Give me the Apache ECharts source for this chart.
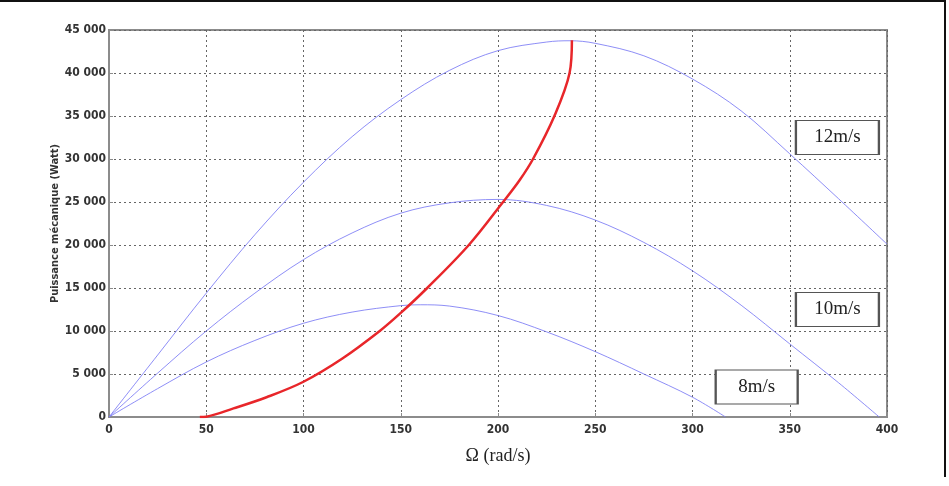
<!DOCTYPE html>
<html>
<head>
<meta charset="utf-8">
<script src="https://cdn.jsdelivr.net/npm/echarts@6/dist/echarts.min.js"></script>
<style>
  html, body { margin: 0; padding: 0; background: #fff; }
  #chart { width: 949px; height: 486px; }
</style>
</head>
<body>
<div id="chart"></div>
<script>
// vitesse de rotation (rad/s) et puissance (W)
var omega12 = [0, 25, 50, 75, 100, 125, 150, 175, 200, 225, 237, 250, 275, 300, 325, 350, 375, 400];
var power12 = [0, 7200, 14400, 21200, 27300, 32600, 36900, 40300, 42600, 43600, 43750, 43450, 42000, 39300, 35600, 30600, 25400, 20100];

var omega10 = [0, 25, 50, 75, 100, 125, 150, 175, 200, 225, 250, 275, 300, 325, 350, 375, 396];
var power10 = [0, 5100, 10000, 14400, 18300, 21400, 23700, 24900, 25300, 24600, 22900, 20300, 17000, 13000, 8500, 4000, 0];

var omega8 = [0, 25, 50, 75, 100, 125, 150, 160, 175, 200, 225, 250, 275, 300, 317];
var power8 = [0, 3300, 6400, 8900, 10900, 12200, 12950, 13050, 12900, 11800, 9900, 7600, 5000, 2300, 0];

var omegaOpt = [46.7, 50, 64, 81, 100, 120, 139.2, 150, 163.6, 185, 202.6, 211, 218, 229, 236.8, 238];
var powerOpt = [0, 40, 1000, 2300, 4100, 6800, 10000, 12100, 15000, 20000, 25000, 27500, 30000, 35000, 40000, 43800];

var xTicks = [0, 50, 100, 150, 200, 250, 300, 350, 400];
var windLabels = ['12m/s', '10m/s', '8m/s'];
// position des étiquettes (en coordonnées des axes)
var labelPos = [[374.5, 32500], [374.5, 12500], [333, 3500]];

var narrow = "'Liberation Sans Narrow', 'DejaVu Sans Condensed', 'Liberation Sans', sans-serif";

function pairs(xs, ys) {
    return xs.map((x, i) => [x, ys[i]]);
}

function boxLabel(i) {
    return {
        symbol: 'rect',
        symbolSize: i === 2 ? [82, 34] : [83, 34],
        silent: true,
        itemStyle: { color: '#fff', borderColor: '#555', borderWidth: 1.5 },
        label: {
            show: true,
            position: 'inside',
            formatter: windLabels[i],
            fontFamily: 'Liberation Serif',
            fontSize: 19,
            color: '#222'
        },
        data: [{ coord: labelPos[i] }]
    };
}

const blueLine = {
    color: '#7a7af5',
    width: 1,
    opacity: 0.85
};

const chart = echarts.init(document.getElementById('chart'));

chart.setOption({
    animation: false,
    backgroundColor: '#fff',
    grid: {
        left: 109,
        right: 62,
        top: 30,
        bottom: 69,
        show: true,
        borderColor: '#8c8c8c',
        borderWidth: 2
    },
    xAxis: {
        type: 'value',
        min: 0,
        max: 400,
        interval: 50,
        name: 'Ω (rad/s)',
        nameLocation: 'middle',
        nameGap: 30,
        nameTextStyle: { fontFamily: 'Liberation Serif', fontSize: 18, color: '#222' },
        axisLine: { lineStyle: { color: '#8c8c8c', width: 2 } },
        axisTick: { inside: true, length: 4, lineStyle: { color: '#8c8c8c' } },
        axisLabel: {
            margin: 7,
            fontFamily: narrow,
            fontWeight: 'bold',
            fontSize: 12,
            color: '#333',
            formatter: v => xTicks.includes(v) ? String(v) : ''
        },
        splitLine: { show: true, lineStyle: { type: [2, 3], color: '#666', width: 1 } }
    },
    yAxis: {
        type: 'value',
        min: 0,
        max: 45000,
        interval: 5000,
        name: 'Puissance mécanique (Watt)',
        nameLocation: 'middle',
        nameGap: 48,
        nameMoveOverlap: false,
        nameTextStyle: { fontFamily: narrow, fontWeight: 'bold', fontSize: 11, color: '#333' },
        axisLine: { show: true, lineStyle: { color: '#8c8c8c', width: 2 } },
        axisTick: { show: true, inside: true, length: 4, lineStyle: { color: '#8c8c8c' } },
        axisLabel: {
            margin: 3,
            fontFamily: narrow,
            fontWeight: 'bold',
            fontSize: 12,
            color: '#333',
            formatter: v => v >= 1000 ? String(v).slice(0, -3) + ' ' + String(v).slice(-3) : String(v)
        },
        splitLine: { show: true, lineStyle: { type: [2, 3], color: '#666', width: 1 } }
    },
    graphic: [
        { type: 'line', shape: { x1: 0, y1: 1, x2: 946, y2: 1 }, style: { stroke: '#111', lineWidth: 2 } },
        { type: 'line', shape: { x1: 945, y1: 0, x2: 945, y2: 477 }, style: { stroke: '#111', lineWidth: 2 } }
    ],
    series: [
        {
            name: '12m/s',
            type: 'line',
            data: pairs(omega12, power12),
            smooth: 0.35,
            showSymbol: false,
            lineStyle: blueLine,
            markPoint: boxLabel(0),
            z: 3
        },
        {
            name: '10m/s',
            type: 'line',
            data: pairs(omega10, power10),
            smooth: 0.35,
            showSymbol: false,
            lineStyle: blueLine,
            markPoint: boxLabel(1),
            z: 3
        },
        {
            name: '8m/s',
            type: 'line',
            data: pairs(omega8, power8),
            smooth: 0.35,
            showSymbol: false,
            lineStyle: blueLine,
            markPoint: boxLabel(2),
            z: 3
        },
        {
            name: 'Popt',
            type: 'line',
            data: pairs(omegaOpt, powerOpt),
            smooth: 0.35,
            showSymbol: false,
            lineStyle: { color: '#e8262a', width: 2.5 },
            z: 4
        }
    ]
});
</script>
</body>
</html>
